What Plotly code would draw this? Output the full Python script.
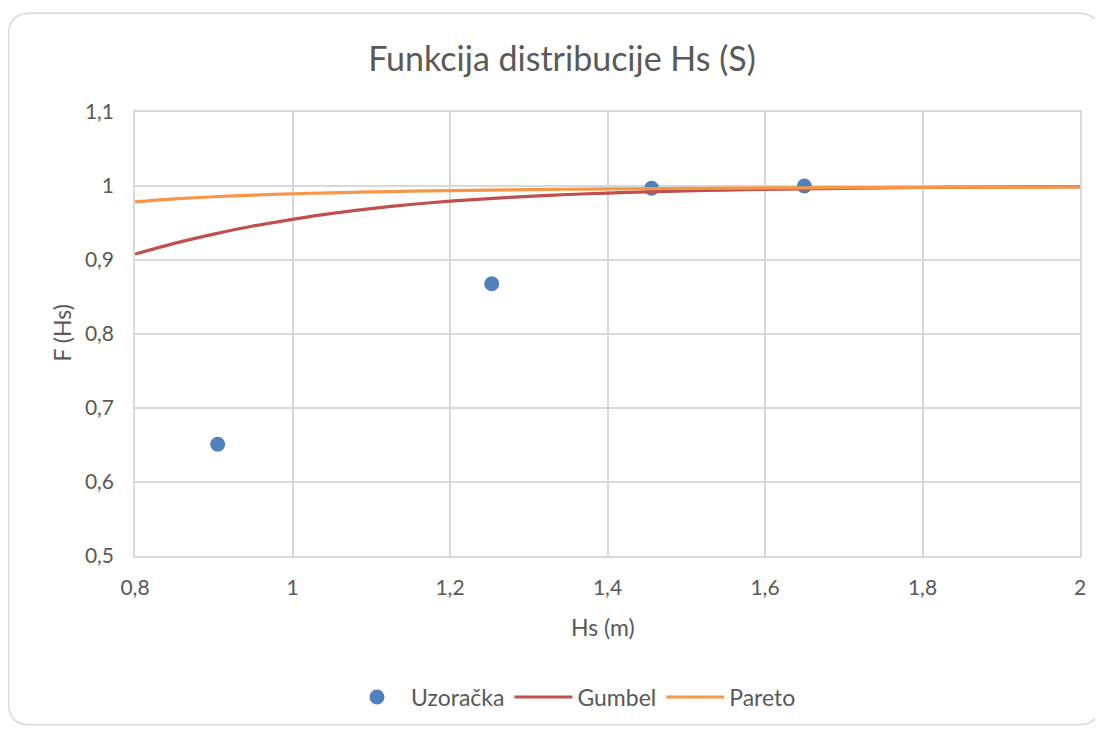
import plotly.graph_objects as go

# Sample (empirical) points
sample_x = [0.905, 1.253, 1.456, 1.650]
sample_y = [0.651, 0.868, 0.997, 1.000]

# Curves
curve_x = [0.80, 0.85, 0.90, 0.95, 1.00, 1.05, 1.10, 1.15, 1.20, 1.25, 1.30, 1.35, 1.40,
           1.45, 1.50, 1.55, 1.60, 1.65, 1.70, 1.75, 1.80, 1.85, 1.90, 1.95, 2.00]
gumbel_y = [0.908, 0.9225, 0.935, 0.946, 0.955, 0.963, 0.9695, 0.975, 0.9795, 0.983, 0.986,
            0.9885, 0.9905, 0.992, 0.9933, 0.9945, 0.9954, 0.9962, 0.9969, 0.9975, 0.998,
            0.9983, 0.9986, 0.9989, 0.9991]
pareto_y = [0.9785, 0.9825, 0.9855, 0.9877, 0.9895, 0.9908, 0.9920, 0.9930, 0.9938, 0.9945,
            0.9951, 0.9956, 0.9961, 0.9965, 0.9968, 0.9971, 0.9974, 0.9976, 0.9978, 0.9980,
            0.9982, 0.9984, 0.9985, 0.9986, 0.9988]

x_ticks = [0.8, 1.0, 1.2, 1.4, 1.6, 1.8, 2.0]
y_ticks = [0.5, 0.6, 0.7, 0.8, 0.9, 1.0, 1.1]

OX, OY = 8, 8            # page body margin
W, H = 1103 - OX, 731 - OY
# plot area in page pixels
PL, PR, PT, PB = 135, 1080, 112, 559
L, R, T, B = PL - OX, PR - OX, PT - OY, PB - OY

FONT = "Lato"
GREY = "#595959"
GRID = "#d9d9d9"

fig = go.Figure()
fig.add_trace(go.Scatter(x=sample_x, y=sample_y, mode="markers", name="Uzoračka",
                         marker=dict(color="#4F81BD", size=15)))
fig.add_trace(go.Scatter(x=curve_x, y=gumbel_y, mode="lines", name="Gumbel",
                         line=dict(color="#C0504D", width=3.2, shape="spline", smoothing=0.8)))
fig.add_trace(go.Scatter(x=curve_x, y=pareto_y, mode="lines", name="Pareto",
                         line=dict(color="#F79646", width=3.2, shape="spline", smoothing=0.8)))

def px2paper(px, py):
    # page pixel -> paper coords
    return (px - PL) / (PR - PL), (PB - py) / (PB - PT)

# Rounded chart border (page pixels)
bl, bt, br, bb, rad = 8.5, 12.5, 1100, 729, 22
pts = [("M", bl + rad, bt), ("L", br - rad, bt), ("Q", br, bt, br, bt + rad),
       ("L", br, bb - rad), ("Q", br, bb, br - rad, bb), ("L", bl + rad, bb),
       ("Q", bl, bb, bl, bb - rad), ("L", bl, bt + rad), ("Q", bl, bt, bl + rad, bt)]
path = ""
for p in pts:
    coords = p[1:]
    s = []
    for i in range(0, len(coords), 2):
        xx, yy = px2paper(coords[i], coords[i + 1])
        s.append(f"{xx:.5f},{yy:.5f}")
    path += p[0] + " " + " ".join(s) + " "
path += "Z"
fig.add_shape(type="path", path=path, xref="paper", yref="paper",
              line=dict(color=GRID, width=1.5), layer="below")

# Axis titles placed at measured positions
xt_x, xt_y = px2paper(603, 630)
fig.add_annotation(text="Hs (m)", x=xt_x, y=xt_y, xref="paper", yref="paper",
                   showarrow=False, xanchor="center", yanchor="middle",
                   font=dict(size=23, color=GREY, family=FONT))
yt_x, yt_y = px2paper(62, 335)
fig.add_annotation(text="F (Hs)", x=yt_x, y=yt_y, xref="paper", yref="paper",
                   showarrow=False, xanchor="center", yanchor="middle", textangle=-90,
                   font=dict(size=23, color=GREY, family=FONT))

fig.update_layout(
    width=W, height=H,
    margin=dict(l=L, r=W - R, t=T, b=H - B, pad=0),
    paper_bgcolor="white", plot_bgcolor="white",
    separators=", ",
    font=dict(family=FONT, color=GREY, size=21),
    title=dict(text="Funkcija distribucije Hs (S)", x=(562 - OX) / W, xanchor="center",
               y=1 - (59 - OY) / H, yanchor="middle",
               font=dict(size=34, color=GREY, family=FONT)),
    xaxis=dict(range=[0.8, 2.0], tickvals=x_ticks, showgrid=True, gridcolor=GRID, gridwidth=1.5,
               showline=True, linecolor=GRID, linewidth=1.5, mirror=True, zeroline=False,
               ticks="", ticklabelstandoff=12, tickfont=dict(size=21, color=GREY)),
    yaxis=dict(range=[0.5, 1.1], tickvals=y_ticks, showgrid=True, gridcolor=GRID, gridwidth=1.5,
               showline=True, linecolor=GRID, linewidth=1.5, mirror=True, zeroline=False,
               ticks="", ticklabelstandoff=15, tickfont=dict(size=21, color=GREY)),
    legend=dict(orientation="h", x=(572 - PL) / (PR - PL), xanchor="center",
                y=(PB - 701) / (PB - PT), yanchor="middle", font=dict(size=23, color=GREY),
                itemwidth=58, tracegroupgap=0),
    showlegend=True,
)

fig.write_html("out.html")
